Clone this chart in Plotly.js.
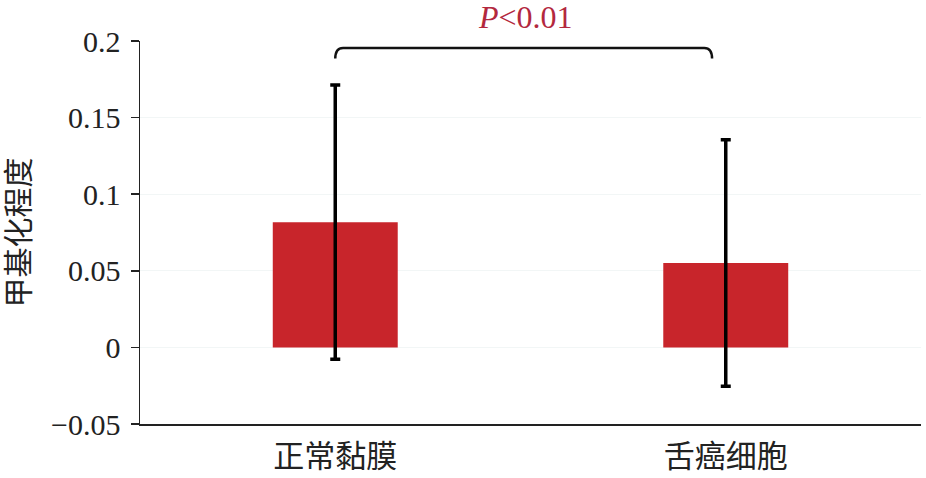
<!DOCTYPE html>
<html>
<head>
<meta charset="utf-8">
<script src="https://cdn.plot.ly/plotly-3.0.1.min.js"></script>
<style>html,body{margin:0;padding:0;background:#fff;}#chart{width:926px;height:478px;}</style>
</head>
<body>
<div id="chart"></div>
<script>
const categories = ["正常黏膜", "舌癌细胞"];
const means = [0.0817, 0.0551];
const errors = [0.0895, 0.0805];
const yTickVals = [-0.05, 0, 0.05, 0.1, 0.15, 0.2];
const yTickText = ["\u22120.05", "0", "0.05", "0.1", "0.15", "0.2"];
const pLabel = "<i>P</i><0.01";

const serif = '"Liberation Serif", "Times New Roman", "Noto Sans CJK SC", serif';
const cjk = '"Liberation Serif", "Noto Sans CJK SC", serif';

const trace = {
  type: 'bar',
  x: categories,
  y: means,
  width: 0.32,
  marker: {color: '#C8252B', line: {width: 0}},
  error_y: {type: 'data', array: errors, visible: true, color: '#000000', thickness: 3.5, width: 5},
  hoverinfo: 'none'
};

const layout = {
  width: 926, height: 478,
  margin: {l: 140, r: 5, t: 41, b: 54},
  paper_bgcolor: '#ffffff', plot_bgcolor: '#ffffff',
  showlegend: false,
  xaxis: {
    type: 'category',
    range: [-0.5, 1.5],
    showline: true, linecolor: '#222', linewidth: 1.5,
    ticks: '', showgrid: false, zeroline: false,
    tickfont: {family: cjk, size: 31, color: '#222'},
    ticklabelstandoff: 4
  },
  yaxis: {
    range: [-0.05, 0.2],
    tickvals: yTickVals, ticktext: yTickText,
    showline: true, linecolor: '#222', linewidth: 1.5,
    ticks: 'outside', ticklen: 8, tickwidth: 1.5, tickcolor: '#222',
    showgrid: true, gridcolor: '#f2f6f6', gridwidth: 1,
    zeroline: false,
    ticklabelstandoff: 4,
    tickfont: {family: serif, size: 30, color: '#222'},
    title: {text: '甲基化程度', font: {family: cjk, size: 30, color: '#222'}, standoff: 12}
  },
  shapes: [{
    type: 'path', xref: 'x', yref: 'y',
    path: 'M 0,0.1885 Q 0,0.1955 0.02,0.1955 L 0.945,0.1955 Q 0.965,0.1955 0.965,0.1885',
    line: {color: '#111', width: 2.5}
  }],
  annotations: [{
    text: pLabel, xref: 'paper', yref: 'paper',
    x: 0.4936, y: 1.0, yanchor: 'bottom', yshift: 4,
    showarrow: false,
    font: {family: serif, size: 32, color: '#B3283E'}
  }]
};

Plotly.newPlot('chart', [trace], layout, {staticPlot: true, displayModeBar: false});
</script>
</body>
</html>
